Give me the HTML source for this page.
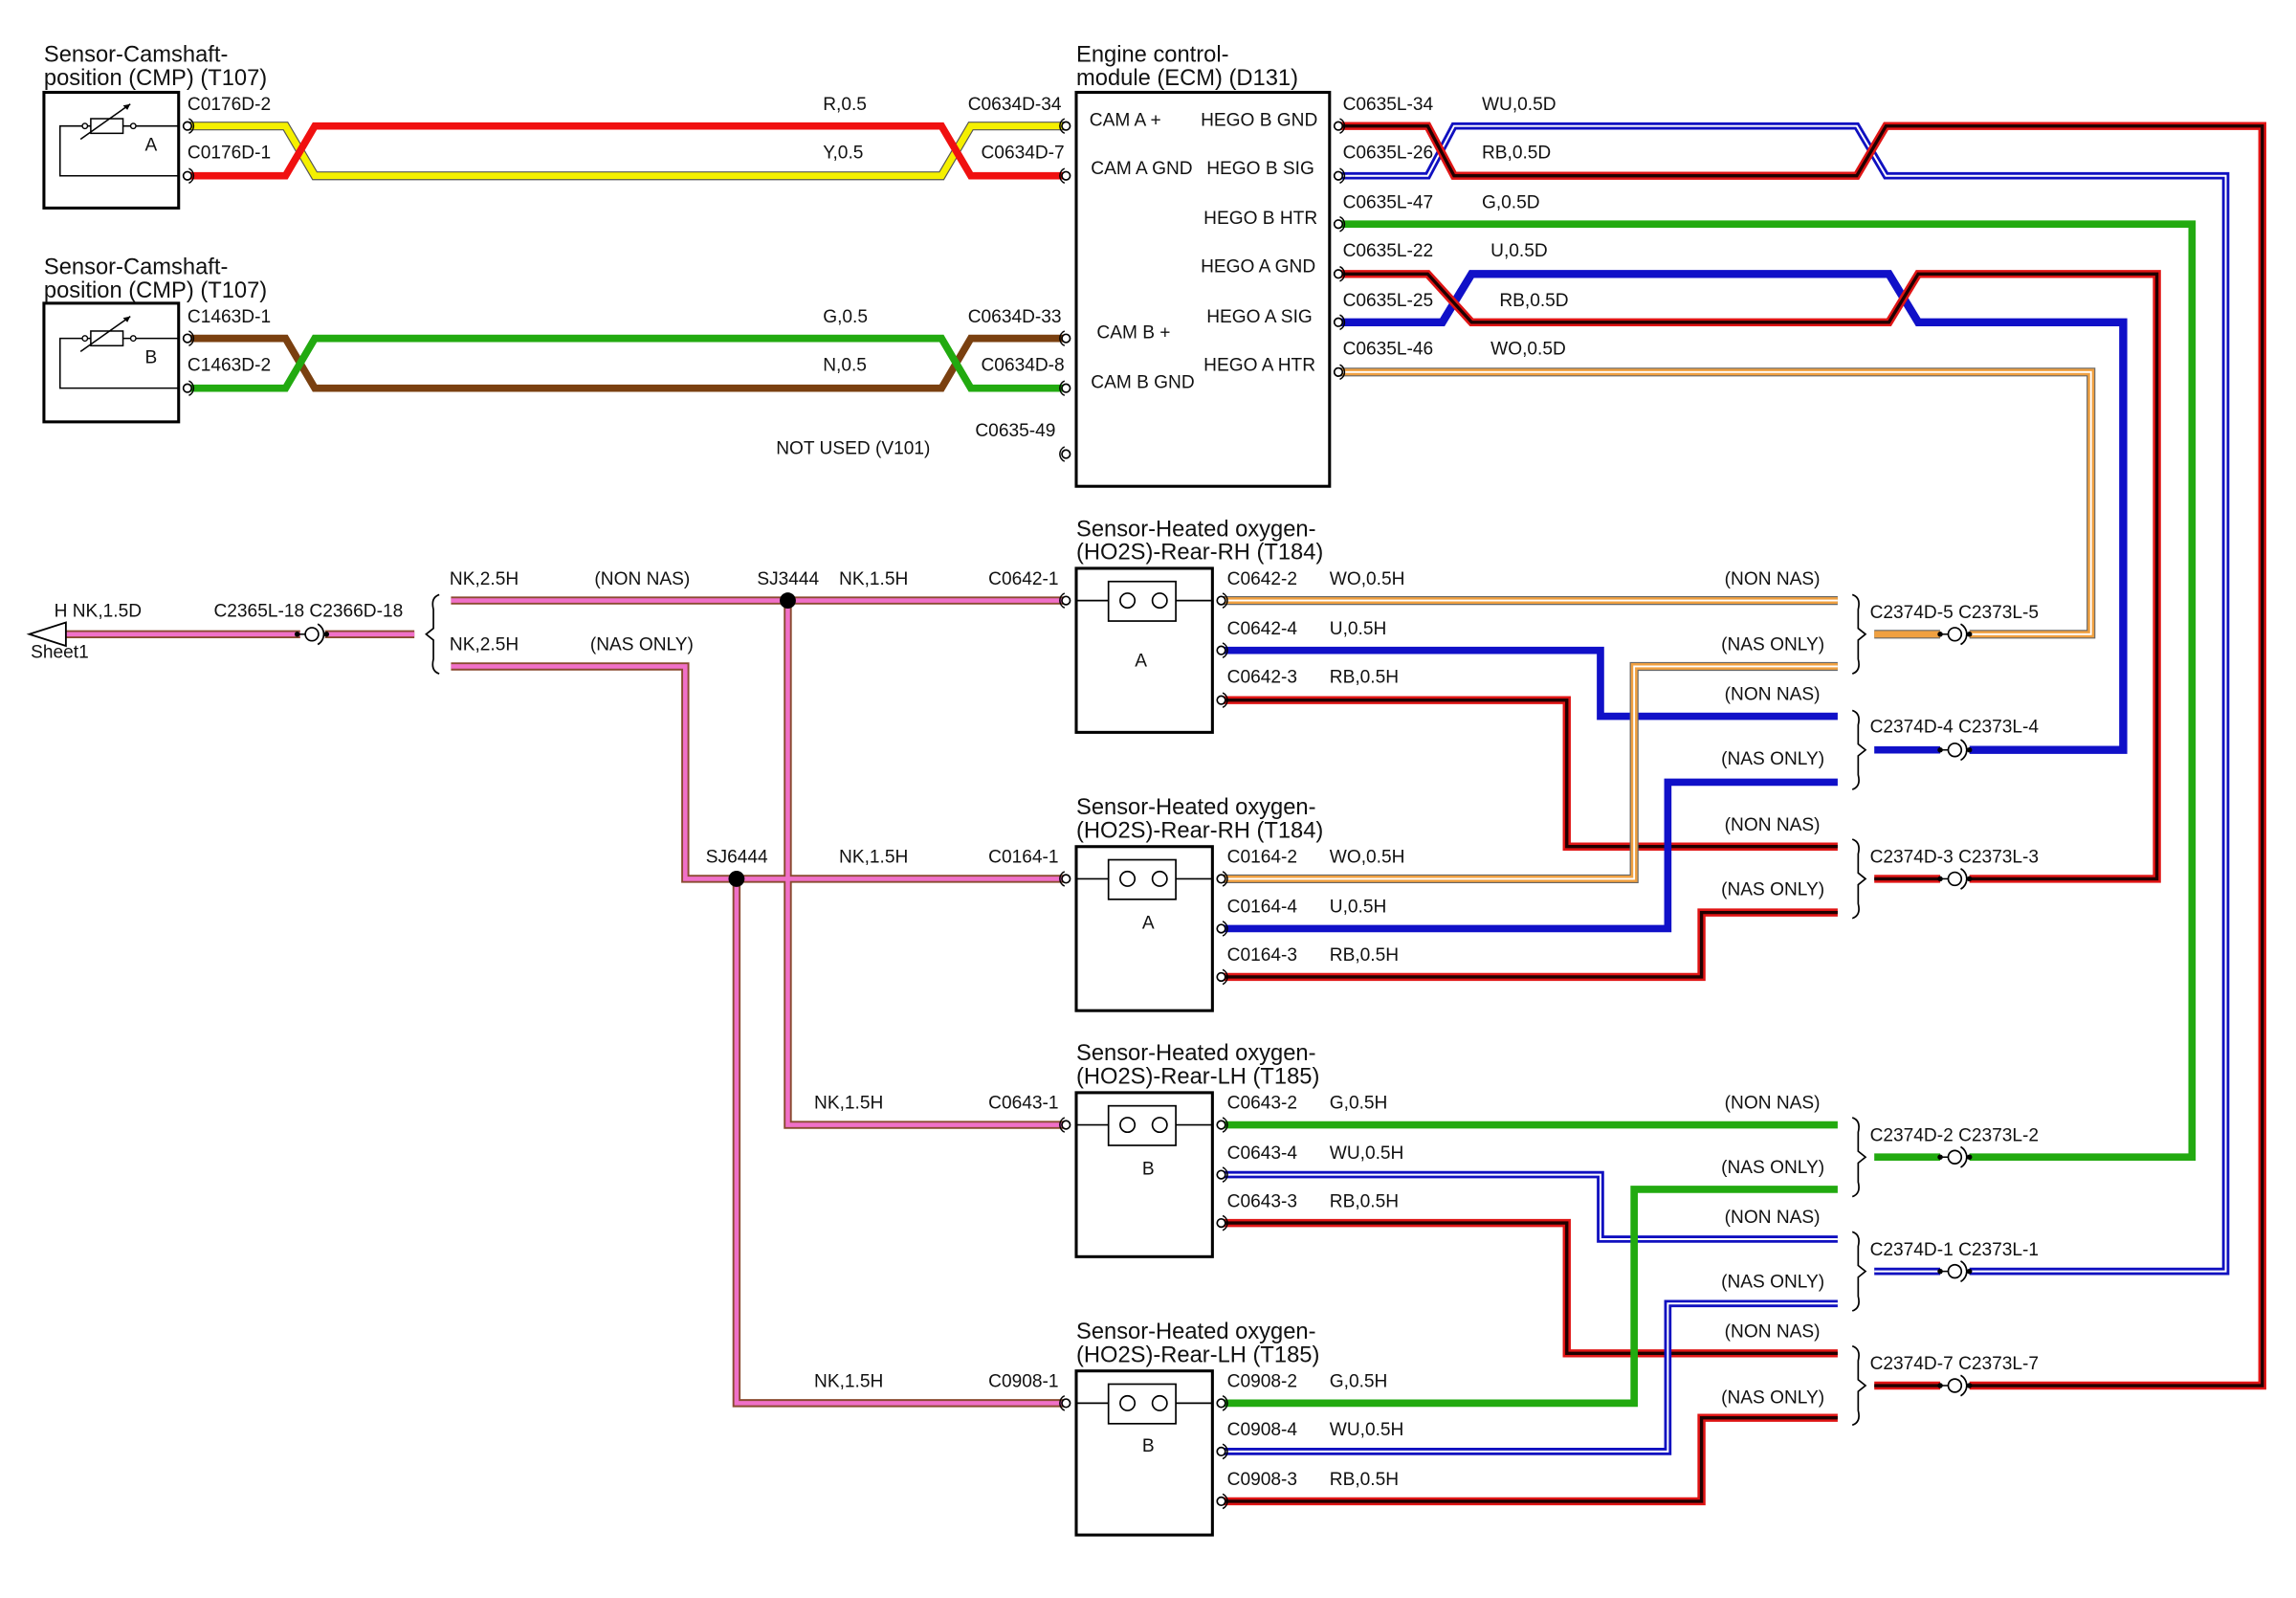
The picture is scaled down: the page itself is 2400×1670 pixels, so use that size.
<!DOCTYPE html>
<html><head><meta charset="utf-8"><style>
html,body{margin:0;padding:0;background:#fff;}
svg{display:block;}
text{font-family:"Liberation Sans",sans-serif;font-size:12.5px;fill:#111;}
.t{font-size:15.5px;}
.pin{fill:#fff;stroke:#000;stroke-width:1.1;}
</style></head><body>
<svg width="2400" height="1670" viewBox="0 0 1568 1091" xmlns="http://www.w3.org/2000/svg">
<defs>
<g id="pinr"><circle cx="0" cy="0" r="2.8" class="pin"/><path d="M1,-5 A5.5,5.5 0 0 1 1,5" fill="none" stroke="#000" stroke-width="1"/></g>
<g id="pinl"><circle cx="0" cy="0" r="2.8" class="pin"/><path d="M-1,-5 A5.5,5.5 0 0 0 -1,5" fill="none" stroke="#000" stroke-width="1"/></g>
<g id="inl"><circle cx="0" cy="0" r="4.5" fill="#fff" stroke="#000" stroke-width="1.1"/><path d="M4,-7 A8,8 0 0 1 4,7" fill="none" stroke="#000" stroke-width="1.1"/><circle cx="-10" cy="0" r="1.8" fill="#000"/><circle cx="10" cy="0" r="1.8" fill="#000"/><line x1="-10" y1="0" x2="-4.5" y2="0" stroke="#000"/><line x1="8" y1="0" x2="10" y2="0" stroke="#000"/></g>
<path id="br" d="M0,0 q6,2 4,10 v13 l5,4 l-5,4 v13 q2,8 -4,10" fill="none" stroke="#000" stroke-width="1.1"/>
<path id="bl" d="M0,0 q-6,2 -4,10 v13 l-5,4 l5,4 v13 q-2,8 4,10" fill="none" stroke="#000" stroke-width="1.1"/>
</defs>
<g fill="none" stroke-linejoin="miter">
<polyline points="128,86 195,86 215,120 643,120 663,86 727,86" stroke="#555" stroke-width="6"/>
<polyline points="128,86 195,86 215,120 643,120 663,86 727,86" stroke="#f5f000" stroke-width="4.5"/>
<polyline points="128,120 195,120 215,86 643,86 663,120 727,120" stroke="#f01010" stroke-width="5"/>
<polyline points="128,231 195,231 215,265 643,265 663,231 727,231" stroke="#7a4010" stroke-width="5"/>
<polyline points="128,265 195,265 215,231 643,231 663,265 727,265" stroke="#22aa10" stroke-width="5"/>
<polyline points="914,120 975,120 993,86 1268,86 1288,120 1520,120 1520,868 1345,868" stroke="#1010c0" stroke-width="5"/>
<polyline points="914,120 975,120 993,86 1268,86 1288,120 1520,120 1520,868 1345,868" stroke="#fff" stroke-width="1.3"/>
<polyline points="914,86 975,86 993,120 1268,120 1288,86 1545,86 1545,946 1345,946" stroke="#e01515" stroke-width="5.5"/>
<polyline points="914,86 975,86 993,120 1268,120 1288,86 1545,86 1545,946 1345,946" stroke="#200000" stroke-width="2.2"/>
<polyline points="914,153 1497,153 1497,790 1345,790" stroke="#22aa10" stroke-width="5"/>
<polyline points="914,220 985,220 1005,187 1290,187 1310,220 1450,220 1450,512 1345,512" stroke="#1010c8" stroke-width="5.5"/>
<polyline points="914,187 975,187 1005,220 1290,220 1310,187 1473,187 1473,600 1345,600" stroke="#e01515" stroke-width="5.5"/>
<polyline points="914,187 975,187 1005,220 1290,220 1310,187 1473,187 1473,600 1345,600" stroke="#200000" stroke-width="2.2"/>
<polyline points="914,254 1428,254 1428,433 1345,433" stroke="#666" stroke-width="6"/>
<polyline points="914,254 1428,254 1428,433 1345,433" stroke="#f0a040" stroke-width="4.5"/>
<polyline points="914,254 1428,254 1428,433 1345,433" stroke="#fff" stroke-width="1.2"/>
<line x1="1280" y1="433" x2="1325" y2="433" stroke="#666" stroke-width="6"/><line x1="1280" y1="433" x2="1325" y2="433" stroke="#f0a040" stroke-width="4.5"/>
<line x1="1280" y1="512" x2="1325" y2="512" stroke="#1010c8" stroke-width="5"/>
<line x1="1280" y1="600" x2="1325" y2="600" stroke="#e01515" stroke-width="5.5"/><line x1="1280" y1="600" x2="1325" y2="600" stroke="#200000" stroke-width="2.2"/>
<line x1="1280" y1="790" x2="1325" y2="790" stroke="#22aa10" stroke-width="5"/>
<line x1="1280" y1="868" x2="1325" y2="868" stroke="#1010c0" stroke-width="5"/><line x1="1280" y1="868" x2="1325" y2="868" stroke="#fff" stroke-width="1.3"/>
<line x1="1280" y1="946" x2="1325" y2="946" stroke="#e01515" stroke-width="5.5"/><line x1="1280" y1="946" x2="1325" y2="946" stroke="#200000" stroke-width="2.2"/>
<polyline points="834,410 1255,410" stroke="#666" stroke-width="6"/><polyline points="834,410 1255,410" stroke="#f0a040" stroke-width="4.5"/><polyline points="834,410 1255,410" stroke="#fff" stroke-width="1.2"/>
<polyline points="834,444 1093,444 1093,489 1255,489" stroke="#1010c8" stroke-width="5"/>
<polyline points="834,478 1070,478 1070,578 1255,578" stroke="#e01515" stroke-width="5.5"/><polyline points="834,478 1070,478 1070,578 1255,578" stroke="#200000" stroke-width="2.2"/>
<polyline points="834,600 1116,600 1116,455 1255,455" stroke="#666" stroke-width="6"/><polyline points="834,600 1116,600 1116,455 1255,455" stroke="#f0a040" stroke-width="4.5"/><polyline points="834,600 1116,600 1116,455 1255,455" stroke="#fff" stroke-width="1.2"/>
<polyline points="834,634 1139,634 1139,534 1255,534" stroke="#1010c8" stroke-width="5"/>
<polyline points="834,667 1162,667 1162,623 1255,623" stroke="#e01515" stroke-width="5.5"/><polyline points="834,667 1162,667 1162,623 1255,623" stroke="#200000" stroke-width="2.2"/>
<polyline points="834,768 1255,768" stroke="#22aa10" stroke-width="5"/>
<polyline points="834,802 1093,802 1093,846 1255,846" stroke="#1010c0" stroke-width="5"/><polyline points="834,802 1093,802 1093,846 1255,846" stroke="#fff" stroke-width="1.3"/>
<polyline points="834,835 1070,835 1070,924 1255,924" stroke="#e01515" stroke-width="5.5"/><polyline points="834,835 1070,835 1070,924 1255,924" stroke="#200000" stroke-width="2.2"/>
<polyline points="834,958 1116,958 1116,812 1255,812" stroke="#22aa10" stroke-width="5"/>
<polyline points="834,991 1139,991 1139,890 1255,890" stroke="#1010c0" stroke-width="5"/><polyline points="834,991 1139,991 1139,890 1255,890" stroke="#fff" stroke-width="1.3"/>
<polyline points="834,1025 1162,1025 1162,968 1255,968" stroke="#e01515" stroke-width="5.5"/><polyline points="834,1025 1162,1025 1162,968 1255,968" stroke="#200000" stroke-width="2.2"/>
<g stroke="#8a4a30" stroke-width="5.5">
<polyline points="45,433 205,433"/><polyline points="222,433 283,433"/>
<polyline points="308,410 727,410"/><polyline points="538,410 538,768 727,768"/>
<polyline points="308,455 468,455 468,600 727,600"/><polyline points="503,600 503,958 727,958"/>
</g>
<g stroke="#f070c8" stroke-width="3">
<polyline points="45,433 205,433"/><polyline points="222,433 283,433"/>
<polyline points="308,410 727,410"/><polyline points="538,410 538,768 727,768"/>
<polyline points="308,455 468,455 468,600 727,600"/><polyline points="503,600 503,958 727,958"/>
</g>
</g>
<circle cx="538" cy="410" r="5.5" fill="#000"/>
<circle cx="503" cy="600" r="5.5" fill="#000"/>
<polygon points="20,433 45,425 45,441" fill="#fff" stroke="#000" stroke-width="1.2"/>
<use href="#inl" x="213" y="433"/>
<use href="#inl" x="1335" y="433"/><use href="#inl" x="1335" y="512"/><use href="#inl" x="1335" y="600"/>
<use href="#inl" x="1335" y="790"/><use href="#inl" x="1335" y="868"/><use href="#inl" x="1335" y="946"/>
<use href="#bl" x="300" y="406"/>
<use href="#br" x="1265" y="406"/><use href="#br" x="1265" y="485"/><use href="#br" x="1265" y="573"/>
<use href="#br" x="1265" y="763"/><use href="#br" x="1265" y="841"/><use href="#br" x="1265" y="919"/>
<g fill="none" stroke="#000" stroke-width="2">
<rect x="30" y="63" width="92" height="79"/>
<rect x="30" y="207" width="92" height="81"/>
<rect x="735" y="63" width="173" height="269"/>
<rect x="735" y="388" width="93" height="112"/>
<rect x="735" y="578" width="93" height="112"/>
<rect x="735" y="746" width="93" height="112"/>
<rect x="735" y="936" width="93" height="112"/>
</g>
<g fill="none" stroke="#000" stroke-width="1">
<path d="M122,86 H41 V120 H122"/><rect x="62" y="81" width="22" height="10" fill="#fff"/><line x1="55" y1="95" x2="89" y2="71"/>
<path d="M122,231 H41 V265 H122"/><rect x="62" y="226" width="22" height="10" fill="#fff"/><line x1="55" y1="240" x2="89" y2="216"/>
</g>
<g fill="#fff" stroke="#000" stroke-width="0.9"><circle cx="58" cy="86" r="1.8"/><circle cx="91" cy="86" r="1.8"/><circle cx="58" cy="231" r="1.8"/><circle cx="91" cy="231" r="1.8"/></g>
<path d="M89,71 l-5,1 l3,3z M89,216 l-5,1 l3,3z" fill="#000"/>
<g fill="none" stroke="#000" stroke-width="1.1">
<path d="M735,410 H828 M735,600 H828 M735,768 H828 M735,958 H828"/>
<rect x="757" y="397" width="46" height="27" fill="#fff"/><circle cx="770" cy="410" r="5"/><circle cx="792" cy="410" r="5"/>
<rect x="757" y="587" width="46" height="27" fill="#fff"/><circle cx="770" cy="600" r="5"/><circle cx="792" cy="600" r="5"/>
<rect x="757" y="755" width="46" height="27" fill="#fff"/><circle cx="770" cy="768" r="5"/><circle cx="792" cy="768" r="5"/>
<rect x="757" y="945" width="46" height="27" fill="#fff"/><circle cx="770" cy="958" r="5"/><circle cx="792" cy="958" r="5"/>
</g>
<use href="#pinr" x="128" y="86"/><use href="#pinr" x="128" y="120"/><use href="#pinr" x="128" y="231"/><use href="#pinr" x="128" y="265"/>
<use href="#pinl" x="728" y="86"/><use href="#pinl" x="728" y="120"/><use href="#pinl" x="728" y="231"/><use href="#pinl" x="728" y="265"/><use href="#pinl" x="728" y="310"/>
<use href="#pinr" x="914" y="86"/><use href="#pinr" x="914" y="120"/><use href="#pinr" x="914" y="153"/><use href="#pinr" x="914" y="187"/><use href="#pinr" x="914" y="220"/><use href="#pinr" x="914" y="254"/>
<use href="#pinl" x="728" y="410"/><use href="#pinl" x="728" y="600"/><use href="#pinl" x="728" y="768"/><use href="#pinl" x="728" y="958"/>
<use href="#pinr" x="834" y="410"/><use href="#pinr" x="834" y="444"/><use href="#pinr" x="834" y="478"/>
<use href="#pinr" x="834" y="600"/><use href="#pinr" x="834" y="634"/><use href="#pinr" x="834" y="667"/>
<use href="#pinr" x="834" y="768"/><use href="#pinr" x="834" y="802"/><use href="#pinr" x="834" y="835"/>
<use href="#pinr" x="834" y="958"/><use href="#pinr" x="834" y="991"/><use href="#pinr" x="834" y="1025"/>
<text class="t" x="30" y="42">Sensor-Camshaft-</text><text class="t" x="30" y="58">position (CMP) (T107)</text>
<text class="t" x="30" y="187">Sensor-Camshaft-</text><text class="t" x="30" y="203">position (CMP) (T107)</text>
<text class="t" x="735" y="42">Engine control-</text><text class="t" x="735" y="58">module (ECM) (D131)</text>
<text class="t" x="735" y="366">Sensor-Heated oxygen-</text><text class="t" x="735" y="382">(HO2S)-Rear-RH (T184)</text>
<text class="t" x="735" y="556">Sensor-Heated oxygen-</text><text class="t" x="735" y="572">(HO2S)-Rear-RH (T184)</text>
<text class="t" x="735" y="724">Sensor-Heated oxygen-</text><text class="t" x="735" y="740">(HO2S)-Rear-LH (T185)</text>
<text class="t" x="735" y="914">Sensor-Heated oxygen-</text><text class="t" x="735" y="930">(HO2S)-Rear-LH (T185)</text>
<text x="99" y="103">A</text><text x="99" y="248">B</text>
<text x="775" y="455">A</text><text x="780" y="634">A</text><text x="780" y="802">B</text><text x="780" y="991">B</text>
<text x="128" y="75">C0176D-2</text><text x="128" y="108">C0176D-1</text>
<text x="128" y="220">C1463D-1</text><text x="128" y="253">C1463D-2</text>
<text x="562" y="75">R,0.5</text><text x="562" y="108">Y,0.5</text><text x="562" y="220">G,0.5</text><text x="562" y="253">N,0.5</text>
<text x="661" y="75">C0634D-34</text><text x="670" y="108">C0634D-7</text><text x="661" y="220">C0634D-33</text><text x="670" y="253">C0634D-8</text>
<text x="666" y="298">C0635-49</text><text x="530" y="310">NOT USED (V101)</text>
<text x="744" y="86">CAM A +</text><text x="820" y="86">HEGO B GND</text>
<text x="745" y="119">CAM A GND</text><text x="824" y="119">HEGO B SIG</text>
<text x="822" y="153">HEGO B HTR</text><text x="820" y="186">HEGO A GND</text>
<text x="824" y="220">HEGO A SIG</text><text x="749" y="231">CAM B +</text>
<text x="822" y="253">HEGO A HTR</text><text x="745" y="265">CAM B GND</text>
<text x="917" y="75">C0635L-34</text><text x="1012" y="75">WU,0.5D</text>
<text x="917" y="108">C0635L-26</text><text x="1012" y="108">RB,0.5D</text>
<text x="917" y="142">C0635L-47</text><text x="1012" y="142">G,0.5D</text>
<text x="917" y="175">C0635L-22</text><text x="1018" y="175">U,0.5D</text>
<text x="917" y="209">C0635L-25</text><text x="1024" y="209">RB,0.5D</text>
<text x="917" y="242">C0635L-46</text><text x="1018" y="242">WO,0.5D</text>
<text x="37" y="421">H  NK,1.5D</text><text x="21" y="449">Sheet1</text><text x="146" y="421">C2365L-18 C2366D-18</text>
<text x="307" y="399">NK,2.5H</text><text x="406" y="399">(NON NAS)</text><text x="517" y="399">SJ3444</text><text x="573" y="399">NK,1.5H</text><text x="675" y="399">C0642-1</text>
<text x="307" y="444">NK,2.5H</text><text x="403" y="444">(NAS ONLY)</text>
<text x="482" y="589">SJ6444</text><text x="573" y="589">NK,1.5H</text><text x="675" y="589">C0164-1</text>
<text x="556" y="757">NK,1.5H</text><text x="675" y="757">C0643-1</text>
<text x="556" y="947">NK,1.5H</text><text x="675" y="947">C0908-1</text>
<text x="838" y="399">C0642-2</text><text x="908" y="399">WO,0.5H</text>
<text x="838" y="433">C0642-4</text><text x="908" y="433">U,0.5H</text>
<text x="838" y="466">C0642-3</text><text x="908" y="466">RB,0.5H</text>
<text x="838" y="589">C0164-2</text><text x="908" y="589">WO,0.5H</text>
<text x="838" y="623">C0164-4</text><text x="908" y="623">U,0.5H</text>
<text x="838" y="656">C0164-3</text><text x="908" y="656">RB,0.5H</text>
<text x="838" y="757">C0643-2</text><text x="908" y="757">G,0.5H</text>
<text x="838" y="791">C0643-4</text><text x="908" y="791">WU,0.5H</text>
<text x="838" y="824">C0643-3</text><text x="908" y="824">RB,0.5H</text>
<text x="838" y="947">C0908-2</text><text x="908" y="947">G,0.5H</text>
<text x="838" y="980">C0908-4</text><text x="908" y="980">WU,0.5H</text>
<text x="838" y="1014">C0908-3</text><text x="908" y="1014">RB,0.5H</text>
<g text-anchor="end">
<text x="1243" y="399">(NON NAS)</text><text x="1246" y="444">(NAS ONLY)</text>
<text x="1243" y="478">(NON NAS)</text><text x="1246" y="522">(NAS ONLY)</text>
<text x="1243" y="567">(NON NAS)</text><text x="1246" y="611">(NAS ONLY)</text>
<text x="1243" y="757">(NON NAS)</text><text x="1246" y="801">(NAS ONLY)</text>
<text x="1243" y="835">(NON NAS)</text><text x="1246" y="879">(NAS ONLY)</text>
<text x="1243" y="913">(NON NAS)</text><text x="1246" y="958">(NAS ONLY)</text>
</g>
<text x="1277" y="422">C2374D-5 C2373L-5</text>
<text x="1277" y="500">C2374D-4 C2373L-4</text>
<text x="1277" y="589">C2374D-3 C2373L-3</text>
<text x="1277" y="779">C2374D-2 C2373L-2</text>
<text x="1277" y="857">C2374D-1 C2373L-1</text>
<text x="1277" y="935">C2374D-7 C2373L-7</text>
</svg>
</body></html>
